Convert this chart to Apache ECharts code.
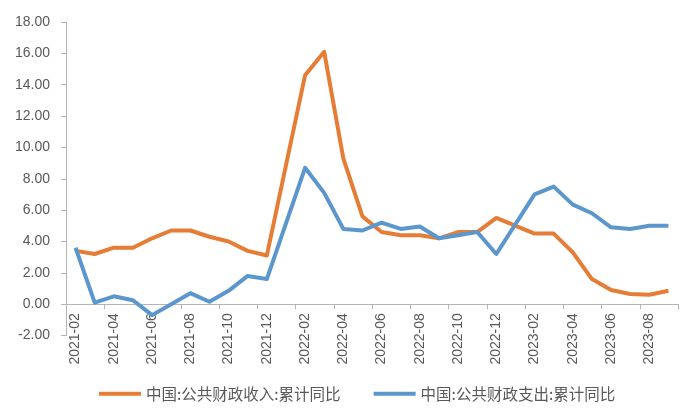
<!DOCTYPE html>
<html>
<head>
<meta charset="utf-8">
<script src="https://cdn.jsdelivr.net/npm/echarts@6/dist/echarts.min.js"></script>
<style>html,body{margin:0;padding:0;background:#fff;}#c{width:700px;height:420px;}</style>
</head>
<body>
<div id="c"></div>
<script>
var categories = ['2021-02','2021-03','2021-04','2021-05','2021-06','2021-07','2021-08','2021-09','2021-10','2021-11','2021-12',
  '2022-01','2022-02','2022-03','2022-04','2022-05','2022-06','2022-07','2022-08','2022-09','2022-10','2022-11','2022-12',
  '2023-01','2023-02','2023-03','2023-04','2023-05','2023-06','2023-07','2023-08','2023-09'];
var revenueName = '中国:公共财政收入:累计同比';
var expenditureName = '中国:公共财政支出:累计同比';
var revenue = [3.4,3.2,3.6,3.6,4.2,4.7,4.7,4.3,4.0,3.4,3.1,
  null,14.6,16.1,9.3,5.6,4.6,4.4,4.4,4.2,4.6,4.6,5.5,
  null,4.5,4.5,3.3,1.6,0.9,0.65,0.6,0.85];
var expenditure = [3.6,0.1,0.5,0.25,-0.7,0.0,0.7,0.15,0.85,1.8,1.6,
  null,8.7,7.1,4.8,4.7,5.2,4.8,4.95,4.2,4.4,4.6,3.2,
  null,7.0,7.5,6.35,5.8,4.9,4.8,5.0,5.0];
var yMin = -2, yMax = 18, yStep = 2;

var chart = echarts.init(document.getElementById('c'));
var axisColor = '#b5b5b5';
var textColor = '#595959';
var gridTop = 22, gridBottom = 84.5;
var plotH = 420 - gridTop - gridBottom;
var zeroOffset = plotH * (0 - yMin) / (yMax - yMin);
chart.setOption({
  animation: false,
  textStyle: {fontFamily: 'Liberation Sans, Arial, sans-serif'},
  grid: {left: 66, right: 22, top: gridTop, bottom: gridBottom},
  legend: {
    left: 94, top: 381,
    icon: 'rect', itemWidth: 42, itemHeight: 4, itemGap: 33,
    textStyle: {fontFamily: 'Noto Sans CJK SC', fontSize: 15.5, color: textColor},
    data: [revenueName, expenditureName]
  },
  xAxis: [{
    type: 'category',
    data: categories,
    boundaryGap: true,
    axisLine: {onZero: true, lineStyle: {color: axisColor, width: 1}},
    axisTick: {show: true, interval: 1, length: 5, lineStyle: {color: axisColor}},
    axisLabel: {show: false}
  }, {
    type: 'category',
    data: categories,
    position: 'bottom',
    offset: -zeroOffset,
    boundaryGap: true,
    axisLine: {show: false, onZero: false},
    axisTick: {show: false},
    axisLabel: {interval: 1, rotate: 90, margin: 9, fontSize: 14, color: textColor}
  }],
  yAxis: {
    type: 'value',
    min: yMin, max: yMax, interval: yStep,
    axisLine: {show: true, onZero: false, lineStyle: {color: axisColor, width: 1}},
    axisTick: {show: true, length: 5, lineStyle: {color: axisColor}},
    splitLine: {show: false},
    axisLabel: {margin: 16, fontSize: 14, color: textColor, formatter: function(v){return v.toFixed(2);}}
  },
  series: [
    {name: revenueName, type: 'line', data: revenue, connectNulls: true, showSymbol: false, symbol: 'none',
     itemStyle: {color: '#e57d36'}, lineStyle: {width: 4, color: '#e57d36', join: 'round'}},
    {name: expenditureName, type: 'line', data: expenditure, connectNulls: true, showSymbol: false, symbol: 'none',
     itemStyle: {color: '#5b97cc'}, lineStyle: {width: 4, color: '#5b97cc', join: 'round'}}
  ]
});
</script>
</body>
</html>
